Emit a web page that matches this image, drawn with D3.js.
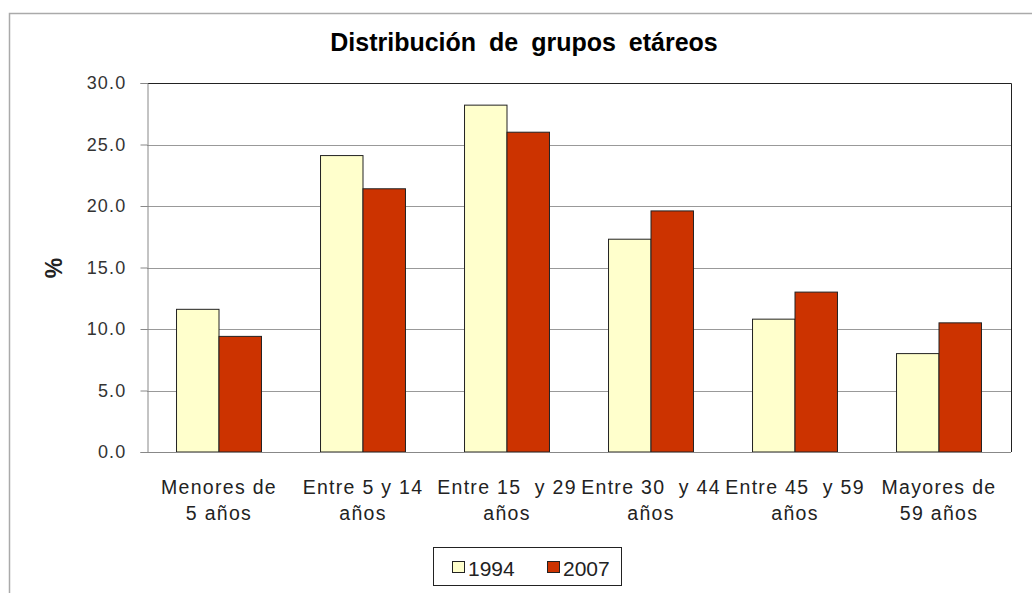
<!DOCTYPE html>
<html>
<head>
<meta charset="utf-8">
<script src="https://cdn.jsdelivr.net/npm/d3@7"></script>
<style>
  body { margin: 0; background: #fff; }
  text { font-family: "Liberation Sans", Arial, sans-serif; }
</style>
</head>
<body>
<script>
// categories and series
let categories = [
  ['Menores de', '5 años'],
  ['Entre 5 y 14', 'años'],
  ['Entre 15  y 29', 'años'],
  ['Entre 30  y 44', 'años'],
  ['Entre 45  y 59', 'años'],
  ['Mayores de', '59 años']
]
let years = ['1994', '2007']
let v1994 = [11.6, 24.1, 28.2, 17.3, 10.8, 8.0]
let v2007 = [9.4, 21.4, 26.0, 19.6, 13.0, 10.5]
let yTicks = [0, 5, 10, 15, 20, 25, 30]
let colors = ['#ffffcc', '#cc3300']

let width = 1032
let height = 593
let margin = { left: 147, right: 21, top: 83, bottom: 141 }

let data = categories.map((c, i) => ({ key: i, label: c, values: [v1994[i], v2007[i]] }))

let svg = d3.select('body')
  .append('svg')
  .attr('width', width)
  .attr('height', height)

// outer chart frame
svg.append('path')
  .attr('d', `M9.5,${height} V13.5 H${width}`)
  .attr('fill', 'none')
  .attr('stroke', '#aaa')
  .attr('stroke-width', 1.5)

let x = d3.scaleBand()
  .domain(data.map(d => d.key))
  .range([margin.left, width - margin.right])
  .paddingInner(0.41)
  .paddingOuter(0.205)

let xs = d3.scaleBand()
  .domain(years)
  .range([0, x.bandwidth()])

let y = d3.scaleLinear()
  .domain([0, 30])
  .range([height - margin.bottom, margin.top])

// gridlines
svg.append('g')
  .selectAll('line')
  .data(yTicks.slice(1, -1))
  .join('line')
    .attr('x1', margin.left)
    .attr('x2', width - margin.right)
    .attr('y1', d => Math.round(y(d)) + 0.5)
    .attr('y2', d => Math.round(y(d)) + 0.5)
    .attr('stroke', '#999')

// plot frame top/right
svg.append('path')
  .attr('d', `M${margin.left},${margin.top + 0.5} H${width - margin.right + 0.5} V${height - margin.bottom}`)
  .attr('fill', 'none')
  .attr('stroke', '#222')

// bars
svg.append('g')
  .selectAll('g')
  .data(data)
  .join('g')
    .attr('transform', d => `translate(${x(d.key)},0)`)
  .selectAll('rect')
  .data(d => d.values.map((v, j) => ({ year: years[j], value: v, j: j })))
  .join('rect')
    .attr('x', d => xs(d.year))
    .attr('y', d => y(d.value))
    .attr('width', xs.bandwidth())
    .attr('height', d => y(0) - y(d.value))
    .attr('fill', d => colors[d.j])
    .attr('stroke', '#222')
    .attr('stroke-width', 1)

// y axis
let yAxis = d3.axisLeft(y)
  .tickValues(yTicks)
  .tickFormat(d3.format('.1f'))
  .tickSize(7)
  .tickPadding(14)

svg.append('g')
  .attr('transform', `translate(${margin.left + 0.5},0)`)
  .call(yAxis)
  .call(g => g.select('.domain').attr('stroke', '#888'))
  .call(g => g.selectAll('.tick line').attr('stroke', '#888'))
  .call(g => g.selectAll('.tick text')
    .attr('font-size', 18)
    .attr('letter-spacing', 1.2)
    .attr('fill', '#333')
    .attr('font-family', '"Liberation Sans", Arial, sans-serif'))

// x axis line
svg.append('line')
  .attr('x1', margin.left)
  .attr('x2', width - margin.right)
  .attr('y1', y(0) + 0.5)
  .attr('y2', y(0) + 0.5)
  .attr('stroke', '#888')

// x labels (two lines)
let xl = svg.append('g')
  .selectAll('text')
  .data(data)
  .join('text')
    .attr('x', d => x(d.key) + x.bandwidth() / 2)
    .attr('y', 494)
    .attr('text-anchor', 'middle')
    .attr('font-size', 19.5)
    .attr('letter-spacing', 1.3)
    .attr('fill', '#222')
    .style('white-space', 'pre')

xl.selectAll('tspan')
  .data(d => d.label)
  .join('tspan')
    .attr('x', function () { return d3.select(this.parentNode).attr('x') })
    .attr('dy', (d, i) => i ? 26 : 0)
    .text(d => d)

// title
svg.append('text')
  .attr('x', 524)
  .attr('y', 51)
  .attr('text-anchor', 'middle')
  .attr('font-size', 25)
  .attr('font-weight', 'bold')
  .attr('word-spacing', 6)
  .attr('fill', '#000')
  .text('Distribución de grupos etáreos')

// y label
svg.append('text')
  .attr('transform', 'translate(62,268) rotate(-90)')
  .attr('text-anchor', 'middle')
  .attr('font-size', 23)
  .attr('font-weight', 'bold')
  .attr('fill', '#222')
  .text('%')

// legend
svg.append('rect')
  .attr('x', 433.5)
  .attr('y', 547.5)
  .attr('width', 188)
  .attr('height', 38)
  .attr('fill', '#fff')
  .attr('stroke', '#222')

let li = svg.append('g')
  .selectAll('g')
  .data(years)
  .join('g')
    .attr('transform', (d, i) => `translate(${452 + i * 95},0)`)

li.append('rect')
  .attr('x', 0.5)
  .attr('y', 561.5)
  .attr('width', 12)
  .attr('height', 11)
  .attr('fill', (d, i) => colors[i])
  .attr('stroke', '#222')

li.append('text')
  .attr('x', 16)
  .attr('y', 576)
  .attr('font-size', 21)
  .attr('fill', '#222')
  .text(d => d)
</script>
</body>
</html>
